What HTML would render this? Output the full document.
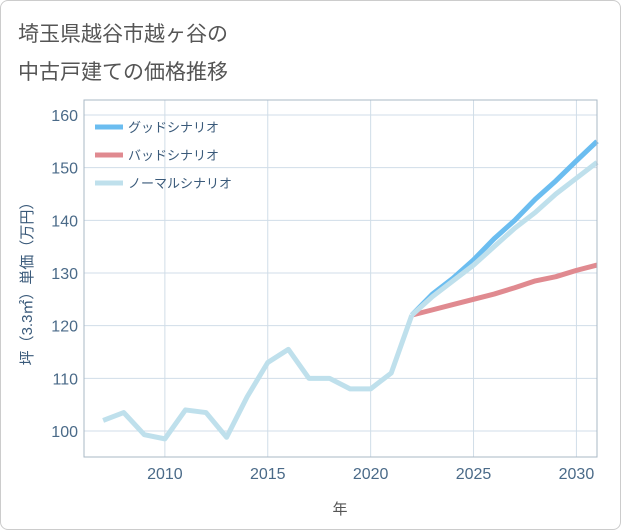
<!DOCTYPE html>
<html><head><meta charset="utf-8"><style>
body{margin:0;background:#fff;font-family:"Liberation Sans","Noto Sans CJK JP",sans-serif}
#card{position:absolute;left:0;top:0;width:619px;height:528px;border:1px solid #ccc;border-radius:8px;background:#fff}
</style></head><body>
<div id="card">
<svg width="621" height="530" style="position:absolute;left:-1px;top:-1px">
<text x="18" y="41" font-size="21" fill="#555">埼玉県越谷市越ヶ谷の</text>
<text x="18" y="79" font-size="21" fill="#555">中古戸建ての価格推移</text>
<g id="grid"></g><g id="series"></g><g id="axes"></g>
<text x="340" y="514" font-size="15" fill="#555" text-anchor="middle">年</text>
<text transform="translate(32,280) rotate(-90)" font-size="15" fill="#3a5a7a" text-anchor="middle">坪（3.3㎡）単価（万円）</text>
<g id="legend"></g>
</svg></div>
<script>
const histYears=[2007,2008,2009,2010,2011,2012,2013,2014,2015,2016,2017,2018,2019,2020,2021,2022];
const histValues=[102,103.5,99.3,98.5,104,103.5,98.8,106.5,113,115.5,110,110,108,108,111,122];
const projYears=[2022,2023,2024,2025,2026,2027,2028,2029,2030,2031];
const goodValues=[122,126,129,132.5,136.5,140,144,147.5,151.3,155];
const badValues=[122,123,124,125,126,127.2,128.5,129.3,130.5,131.5];
const normalValues=[122,125.5,128.5,131.5,135,138.5,141.5,145,148,151];
const xTicks=[2010,2015,2020,2025,2030];
const yTicks=[100,110,120,130,140,150,160];
const L=84,R=597,T=100,B=457,x0=2006.07,x1=2031,y0=95.06,y1=162.85;
const X=v=>L+(v-x0)/(x1-x0)*(R-L), Y=v=>B-(v-y0)/(y1-y0)*(B-T);
const NS="http://www.w3.org/2000/svg";
function mk(p,t,a){const e=document.createElementNS(NS,t);for(const k in a)e.setAttribute(k,a[k]);p.appendChild(e);return e;}
const g=document.getElementById('grid'),s=document.getElementById('series'),ax=document.getElementById('axes'),lg=document.getElementById('legend');
xTicks.forEach(v=>{const l=mk(g,'line',{x1:X(v),x2:X(v),y1:T,y2:B,stroke:'#d0dde8'});


const t=mk(ax,'text',{x:X(v),y:B+22,'font-size':16,fill:'#4a6a88','text-anchor':'middle'});t.textContent=v;

});
yTicks.forEach(v=>{const l=mk(g,'line',{x1:L,x2:R,y1:Y(v),y2:Y(v),stroke:'#d0dde8'});


const t=mk(ax,'text',{x:L-6,y:Y(v)+6,'font-size':16,fill:'#4a6a88','text-anchor':'end'});t.textContent=v;

});
const fr=mk(ax,'rect',{x:L,y:T,width:R-L,height:B-T,fill:'none',stroke:'#aab8c6'});


function line(xs,ys,c,name){const p=mk(s,'polyline',{points:xs.map((x,i)=>X(x)+','+Y(ys[i])).join(' '),fill:'none',stroke:c,'stroke-width':5,'stroke-linejoin':'round'});

}
line(projYears,badValues,'#e08a90','bad-scenario-line');
line(projYears,goodValues,'#6bbdf0','good-scenario-line');
line(projYears,normalValues,'#bfe0ec','normal-scenario-line');
line(histYears,histValues,'#bfe0ec','historical-line');
[['グッドシナリオ','#6bbdf0','legend-good'],['バッドシナリオ','#e08a90','legend-bad'],['ノーマルシナリオ','#bfe0ec','legend-normal']].forEach((d,i)=>{
const y=127+i*28;const l=mk(lg,'line',{x1:95,x2:123,y1:y,y2:y,stroke:d[1],'stroke-width':5});


const t=mk(lg,'text',{x:128,y:y+5,'font-size':13,fill:'#3a5a7a'});t.textContent=d[0];

});
</script></body></html>
